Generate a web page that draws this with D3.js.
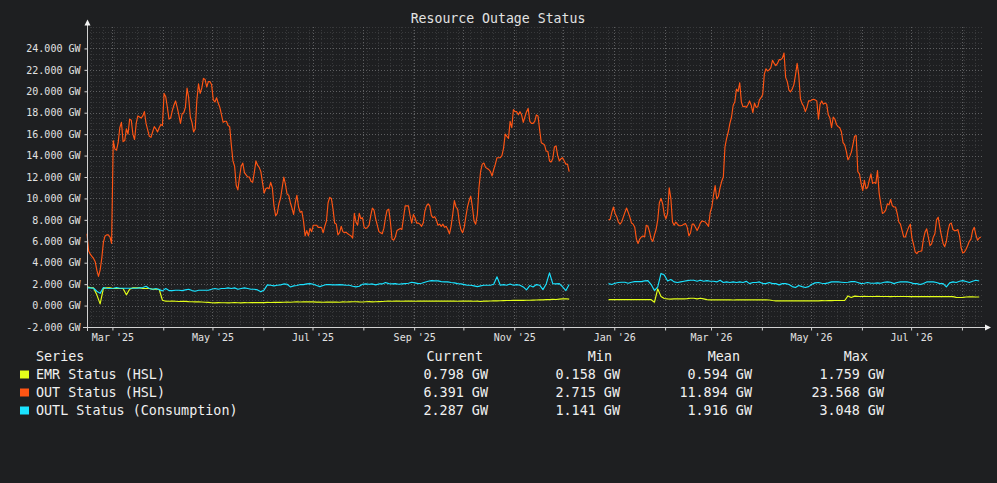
<!DOCTYPE html>
<html>
<head>
<meta charset="utf-8">
<script src="https://cdn.jsdelivr.net/npm/d3@7"></script>
<style>
body { margin: 0; background: #1e1f21; }
svg text { font-family: "DejaVu Sans Mono", monospace; }
</style>
</head>
<body>
<div id="chart"></div>
<script>

//////////////////////////////////////////////////////////////////////////////
// Data

var chartTitle = "Resource Outage Status";
var seriesNames = ["EMR Status (HSL)", "OUT Status (HSL)", "OUTL Status (Consumption)"];
var seriesColors = ["#e4ff1a", "#ff5514", "#1ae2ff"];
var legendHeaders = ["Series", "Current", "Min", "Mean", "Max"];
var statCurrent = [0.798, 6.391, 2.287];
var statMin = [0.158, 2.715, 1.141];
var statMean = [0.594, 11.894, 1.916];
var statMax = [1.759, 23.568, 3.048];

var yTickValues = [-2, 0, 2, 4, 6, 8, 10, 12, 14, 16, 18, 20, 22, 24];
var timeDomain = ["2025-02-13T12:00", "2026-08-13T20:00"];

// two runs of samples, the gap in December 2025 between them
var segmentStarts = ["2025-02-13T12:00", "2025-12-28T12:00"];
var outStepDays = 1;     // OUT sampled daily
var statusStepDays = 2;  // EMR / OUTL every second day

// OUT Status (HSL), GW
var outA = [
    6.7, 5.1, 4.8, 4.6, 4.4, 4.1, 3.3, 2.72, 3.3, 4.4, 5.9, 6.5, 6.6, 6.6, 6.4, 5.8,
    15.4, 14.6, 14.5, 15.2, 16.6, 17.1, 15.3, 15.4, 16.5, 16.0, 17.4, 17.3, 16.0, 15.5, 17.0, 17.7, 17.6, 17.5, 17.7, 18.1,
    17.0, 16.4, 15.8, 15.7, 16.2, 16.7, 16.5, 16.2, 16.6, 16.9, 16.8, 19.8, 19.5, 18.5, 17.4, 17.5, 18.2, 18.7, 19.1, 18.5,
    17.8, 17.0, 17.9, 18.0, 18.5, 20.3, 19.4, 17.6, 17.1, 16.2, 16.5, 19.2, 20.7, 19.8, 20.3, 21.2, 21.1, 20.4, 20.9, 20.9,
    20.6, 19.2, 19.0, 19.4, 18.9, 18.5, 17.8, 17.1, 17.2, 17.2, 16.8, 16.7, 15.0, 13.5, 13.0, 11.2, 10.8, 12.0, 13.0, 13.3,
    12.4, 12.2, 12.0, 12.0, 11.6, 11.5, 12.4, 13.5, 13.1, 12.9, 12.5, 11.5, 10.5, 10.9, 11.0, 10.9, 11.5, 11.0, 9.3, 8.4,
    8.6, 9.5, 10.0, 11.0, 12.0, 11.3, 10.4, 10.3, 9.6, 9.1, 8.5, 9.6, 10.3, 9.2, 8.7, 8.8, 7.9, 6.5, 7.0, 6.5,
    7.2, 6.9, 7.5, 7.5, 7.5, 7.3, 7.3, 7.3, 6.8, 7.4, 7.9, 9.6, 10.1, 10.0, 9.0, 7.7, 7.6, 6.6, 6.8, 7.4,
    6.9, 6.8, 6.85, 6.7, 6.6, 6.5, 6.3, 8.6, 7.8, 7.5, 8.6, 8.1, 8.2, 7.3, 7.2, 7.3, 7.5, 8.4, 9.1, 8.9,
    8.1, 7.5, 6.9, 6.8, 6.7, 7.2, 8.2, 8.9, 9.0, 7.8, 6.2, 6.1, 6.4, 7.0, 7.1, 7.2, 7.1, 8.2, 9.3, 9.3,
    9.3, 8.4, 7.7, 8.5, 8.2, 7.7, 7.7, 7.6, 7.4, 7.7, 8.8, 9.3, 9.5, 9.3, 8.4, 8.2, 8.3, 8.0, 7.5, 7.6,
    7.4, 7.6, 7.3, 7.4, 7.1, 6.7, 7.4, 8.5, 9.8, 9.2, 9.0, 7.8, 7.1, 6.8, 7.3, 8.3, 9.2, 9.8, 10.2, 9.2,
    7.9, 7.6, 8.5, 11.0, 12.5, 13.2, 13.3, 12.9, 12.8, 12.7, 12.5, 12.1, 12.7, 13.2, 13.8, 13.8, 13.8, 14.0, 14.7, 16.0,
    15.8, 15.6, 17.2, 16.6, 18.3, 18.1, 18.1, 17.8, 18.1, 17.8, 17.1, 17.6, 18.1, 18.4, 17.2, 17.0, 17.0, 17.2, 17.8, 17.7,
    16.4, 15.2, 15.1, 15.0, 14.4, 14.4, 13.5, 13.4, 13.7, 14.8, 14.9, 14.0, 13.5, 13.7, 13.8, 13.5, 13.2, 13.2, 12.5
];
var outB = [
    8.0, 8.05, 8.7, 9.2, 8.6, 8.3, 7.8, 7.6, 7.8, 8.25, 8.7, 9.1, 8.7, 8.25, 7.7, 7.6, 7.3, 6.2, 5.8, 6.2,
    6.4, 6.5, 6.4, 7.5, 7.4, 6.9, 6.2, 6.0, 6.6, 7.1, 8.0, 9.6, 10.0, 9.5, 8.5, 8.1, 8.6, 11.0, 10.0, 7.8,
    7.5, 7.8, 7.6, 7.45, 7.45, 7.5, 7.6, 7.65, 7.3, 6.5, 6.8, 7.6, 7.6, 7.3, 7.0, 7.3, 7.7, 7.9, 7.85, 7.8,
    7.6, 7.4, 8.7, 9.2, 10.3, 11.2, 9.95, 10.2, 11.0, 11.6, 12.0, 14.8, 15.6, 16.2, 17.0, 17.6, 18.7, 19.0, 20.2, 20.0,
    20.8, 19.0, 18.55, 18.6, 18.5, 18.75, 19.1, 18.7, 18.0, 18.9, 18.5, 18.55, 19.2, 19.4, 19.7, 21.6, 22.1, 21.9, 22.0, 22.2,
    22.9, 22.6, 22.4, 22.6, 22.95, 22.95, 23.1, 23.57, 21.3, 20.9, 20.1, 19.95, 20.2, 20.6, 21.5, 22.6, 21.5, 19.3, 18.85, 18.6,
    18.1, 18.5, 19.1, 19.1, 19.2, 19.25, 19.2, 19.1, 17.4, 18.8, 19.1, 18.8, 18.9, 18.8, 17.8, 17.5, 16.6, 17.6, 17.4, 16.9,
    16.7, 16.6, 16.2, 15.2, 15.0, 14.4, 13.6, 13.9, 14.3, 15.0, 15.8, 15.87, 12.5, 12.3, 11.4, 10.73, 11.7, 10.9, 11.05, 11.7,
    12.3, 11.4, 11.5, 11.4, 12.6, 10.5, 9.5, 8.6, 8.7, 8.9, 9.5, 9.4, 9.9, 9.33, 9.2, 9.2, 8.6, 7.8, 7.6, 7.0,
    6.4, 6.4, 6.9, 7.3, 7.6, 6.3, 5.7, 5.0, 4.85, 5.05, 5.07, 5.1, 6.2, 6.85, 7.16, 6.38, 5.6, 5.76, 6.38, 6.7,
    8.0, 8.25, 7.3, 6.5, 5.8, 5.5, 6.0, 7.0, 7.6, 7.7, 7.1, 7.0, 7.0, 7.1, 6.5, 5.4, 4.9, 5.0, 5.25, 5.6,
    6.0, 6.2, 7.0, 7.3, 6.6, 6.1, 6.3, 6.39
];

// EMR Status (HSL), GW
var emrA = [
    1.74, 1.68, 1.65, 1.0, 0.16, 1.6, 1.65, 1.65, 1.59, 1.59,
    1.59, 1.59, 1.0, 1.52, 1.65, 1.65, 1.65, 1.59, 1.59, 1.59,
    1.52, 1.52, 1.52, 0.5, 0.41, 0.4, 0.41, 0.4, 0.38, 0.4,
    0.39, 0.37, 0.36, 0.35, 0.34, 0.33, 0.31, 0.3, 0.26, 0.25,
    0.27, 0.26, 0.26, 0.25, 0.26, 0.27, 0.26, 0.25, 0.27, 0.26,
    0.28, 0.27, 0.28, 0.29, 0.28, 0.3, 0.29, 0.3, 0.31, 0.3,
    0.31, 0.32, 0.31, 0.33, 0.34, 0.33, 0.34, 0.35, 0.35, 0.34,
    0.32, 0.33, 0.31, 0.32, 0.32, 0.33, 0.32, 0.31, 0.34, 0.33,
    0.35, 0.36, 0.36, 0.34, 0.33, 0.36, 0.37, 0.35, 0.36, 0.37,
    0.38, 0.4, 0.41, 0.4, 0.41, 0.41, 0.4, 0.41, 0.42, 0.41,
    0.4, 0.41, 0.41, 0.42, 0.41, 0.42, 0.41, 0.41, 0.42, 0.41,
    0.41, 0.42, 0.41, 0.4, 0.41, 0.41, 0.41, 0.41, 0.4, 0.41,
    0.38, 0.41, 0.42, 0.43, 0.44, 0.44, 0.45, 0.46, 0.47, 0.47,
    0.48, 0.49, 0.5, 0.49, 0.5, 0.5, 0.51, 0.52, 0.53, 0.53,
    0.55, 0.56, 0.58, 0.57, 0.6, 0.62, 0.64, 0.6
];
var emrB = [
    0.56, 0.56, 0.56, 0.56, 0.56, 0.56, 0.56, 0.56, 0.56, 0.56,
    0.56, 0.56, 0.56, 0.55, 0.31, 1.56, 0.85, 0.66, 0.62, 0.6,
    0.62, 0.62, 0.62, 0.63, 0.65, 0.68, 0.68, 0.62, 0.68, 0.63,
    0.56, 0.53, 0.53, 0.53, 0.54, 0.53, 0.53, 0.53, 0.52, 0.53,
    0.53, 0.53, 0.53, 0.53, 0.53, 0.53, 0.53, 0.53, 0.53, 0.52,
    0.47, 0.44, 0.44, 0.45, 0.44, 0.44, 0.44, 0.45, 0.44, 0.44,
    0.44, 0.44, 0.45, 0.44, 0.44, 0.46, 0.45, 0.46, 0.46, 0.47,
    0.47, 0.47, 0.47, 0.9, 0.76, 0.88, 0.86, 0.85, 0.86, 0.85,
    0.85, 0.85, 0.86, 0.85, 0.85, 0.85, 0.84, 0.85, 0.85, 0.85,
    0.85, 0.85, 0.84, 0.84, 0.84, 0.84, 0.84, 0.84, 0.84, 0.84,
    0.84, 0.83, 0.84, 0.83, 0.84, 0.84, 0.77, 0.75, 0.77, 0.8,
    0.81, 0.81, 0.8, 0.8
];

// OUTL Status (Consumption), GW
var outlA = [
    1.65, 1.65, 1.62, 1.34, 1.14, 1.68, 1.62, 1.59, 1.62, 1.68,
    1.62, 1.62, 1.62, 1.62, 1.62, 1.62, 1.65, 1.68, 1.8, 1.59,
    1.52, 1.59, 1.49, 1.37, 1.59, 1.4, 1.4, 1.43, 1.43, 1.4,
    1.46, 1.52, 1.4, 1.34, 1.43, 1.43, 1.43, 1.43, 1.52, 1.59,
    1.52, 1.59, 1.59, 1.65, 1.59, 1.65, 1.52, 1.59, 1.65, 1.59,
    1.52, 1.52, 1.46, 1.28, 1.46, 1.93, 1.9, 1.84, 1.9, 1.93,
    2.02, 1.99, 1.74, 1.84, 1.87, 1.96, 1.96, 2.02, 2.05, 1.99,
    1.87, 1.77, 1.87, 1.96, 1.96, 1.93, 1.93, 1.96, 1.93, 1.9,
    1.9, 1.8, 1.74, 1.8, 1.99, 2.02, 1.99, 2.02, 1.93, 2.02,
    2.02, 2.15, 2.05, 2.02, 2.05, 1.99, 2.02, 2.05, 2.08, 2.18,
    2.12, 2.05, 2.08, 2.18, 2.27, 2.33, 2.3, 2.3, 2.24, 2.21,
    2.21, 2.15, 2.12, 2.05, 2.02, 1.96, 1.9, 1.9, 1.84, 1.77,
    1.84, 1.9, 1.9, 1.9, 1.99, 2.68, 1.9, 1.96, 1.9, 2.02,
    1.9, 1.96, 1.9, 1.74, 1.46, 1.87, 1.74, 1.96, 1.9, 1.49,
    2.02, 3.05, 2.05, 2.02, 2.05, 1.74, 1.4, 1.96
];
var outlB = [
    2.05, 1.96, 2.08, 2.15, 2.18, 2.18, 2.08, 2.18, 2.24, 2.24,
    2.24, 2.3, 2.33, 1.96, 1.4, 1.75, 3.0, 2.85, 2.3, 2.43,
    2.21, 2.15, 2.21, 2.27, 2.33, 2.36, 2.36, 2.27, 2.36, 2.27,
    2.33, 2.27, 2.27, 2.21, 2.36, 2.15, 2.21, 2.15, 2.21, 2.15,
    2.21, 2.15, 2.27, 2.05, 2.15, 2.15, 2.21, 2.05, 2.05, 2.15,
    2.05, 2.05, 1.93, 2.05, 2.05, 1.96, 1.77, 1.68, 1.87, 1.77,
    1.68, 1.77, 1.99, 2.12, 2.15, 2.08, 2.05, 2.12, 2.21, 2.21,
    2.21, 2.18, 2.15, 2.18, 2.24, 2.24, 2.15, 2.05, 2.08, 2.15,
    2.08, 2.08, 2.12, 2.08, 2.18, 2.21, 2.18, 2.05, 2.15, 2.21,
    2.21, 2.21, 2.15, 2.05, 2.05, 1.96, 2.05, 2.21, 2.21, 2.21,
    2.15, 2.05, 2.05, 1.74, 2.12, 2.21, 2.15, 2.27, 2.33, 2.24,
    2.15, 2.27, 2.36, 2.29
];

//////////////////////////////////////////////////////////////////////////////
// Global variables, preliminaries

var width = 997, height = 483;
var plotLeft = 87, plotRight = 983, plotTop = 27, plotBottom = 327;
var axisColor = "#d2d2d2", textColor = "#e2e2e2";

function parseLocal(s) { return new Date(s); }

var xScale = d3.scaleTime()
    .domain(timeDomain.map(parseLocal))
    .range([plotLeft, plotRight]);
var yScale = d3.scaleLinear().domain([-2, 26]).range([plotBottom, plotTop]);

var locale = d3.formatLocale({decimal: ".", thousands: ",", grouping: [3],
                              currency: ["", ""], minus: "-"});
var fmt3 = locale.format(".3f");
function gw(v) { return fmt3(v) + " GW"; }

function toPoints(values, start, step) {
    var t0 = parseLocal(start);
    return values.map(function(v, i) {
        return {date: d3.timeDay.offset(t0, i * step), value: v};
    });
}

var series = [
    {segs: [toPoints(emrA, segmentStarts[0], statusStepDays),
            toPoints(emrB, segmentStarts[1], statusStepDays)], color: seriesColors[0]},
    {segs: [toPoints(outA, segmentStarts[0], outStepDays),
            toPoints(outB, segmentStarts[1], outStepDays)], color: seriesColors[1]},
    {segs: [toPoints(outlA, segmentStarts[0], statusStepDays),
            toPoints(outlB, segmentStarts[1], statusStepDays)], color: seriesColors[2]}
];

var svg = d3.select("#chart").append("svg")
    .attr("width", width)
    .attr("height", height);

svg.append("rect").attr("width", width).attr("height", height).attr("fill", "#1e1f21");

//////////////////////////////////////////////////////////////////////////////
// Grid

var grid = svg.append("g");

// minor: every 0.5 GW and every week
var minorY = d3.range(-1.5, 26.01, 0.5).filter(function(v) { return yTickValues.indexOf(v) < 0; });
grid.selectAll("line.minory").data(minorY).enter().append("line")
    .attr("x1", plotLeft).attr("x2", plotRight)
    .attr("y1", function(d) { return Math.round(yScale(d)) + 0.5; })
    .attr("y2", function(d) { return Math.round(yScale(d)) + 0.5; })
    .attr("stroke", "#38393b").attr("stroke-dasharray", "1,2");

var xDom = xScale.domain();
grid.selectAll("line.minorx").data(d3.timeWeek.range(xDom[0], xDom[1])).enter().append("line")
    .attr("x1", function(d) { return Math.round(xScale(d)) + 0.5; })
    .attr("x2", function(d) { return Math.round(xScale(d)) + 0.5; })
    .attr("y1", plotTop).attr("y2", plotBottom)
    .attr("stroke", "#38393b").attr("stroke-dasharray", "1,2");

// major: every 2 GW and every month
grid.selectAll("line.majory").data(yTickValues.slice(1)).enter().append("line")
    .attr("x1", plotLeft).attr("x2", plotRight)
    .attr("y1", function(d) { return Math.round(yScale(d)) + 0.5; })
    .attr("y2", function(d) { return Math.round(yScale(d)) + 0.5; })
    .attr("stroke", "#5e5f61").attr("stroke-dasharray", "1,2");

grid.selectAll("line.majorx").data(d3.timeMonth.range(xDom[0], xDom[1])).enter().append("line")
    .attr("x1", function(d) { return Math.round(xScale(d)) + 0.5; })
    .attr("x2", function(d) { return Math.round(xScale(d)) + 0.5; })
    .attr("y1", plotTop).attr("y2", plotBottom)
    .attr("stroke", "#5e5f61").attr("stroke-dasharray", "1,2");

//////////////////////////////////////////////////////////////////////////////
// Lines

var line = d3.line()
    .x(function(d) { return xScale(d.date); })
    .y(function(d) { return yScale(d.value); });

series.forEach(function(s) {
    s.segs.forEach(function(seg) {
        svg.append("path")
            .datum(seg)
            .attr("d", line)
            .attr("fill", "none")
            .attr("stroke", s.color)
            .attr("stroke-width", 1.15)
            .attr("stroke-linejoin", "round");
    });
});

//////////////////////////////////////////////////////////////////////////////
// Axes

var yAxis = d3.axisLeft(yScale).tickValues(yTickValues).tickSize(3).tickPadding(4).tickFormat(gw);
var gy = svg.append("g").attr("transform", "translate(" + (plotLeft + 0.5) + ",0)").call(yAxis);
gy.select(".domain").remove();
gy.selectAll("line").attr("stroke", axisColor);
gy.selectAll("text").attr("fill", textColor).attr("font-size", 10)
    .attr("font-family", "DejaVu Sans Mono, monospace");

var monthFmt = d3.timeFormat("%b '%y");
var xAxis = d3.axisBottom(xScale).ticks(d3.timeMonth.every(1)).tickSize(3).tickPadding(3)
    .tickFormat(function(d) { return d.getMonth() % 2 === 0 ? monthFmt(d) : ""; });
var gx = svg.append("g").attr("transform", "translate(0," + (plotBottom + 0.5) + ")").call(xAxis);
gx.select(".domain").remove();
gx.selectAll("line").attr("stroke", axisColor);
gx.selectAll("text").attr("fill", textColor).attr("font-size", 10)
    .attr("font-family", "DejaVu Sans Mono, monospace");

// axis lines with arrow heads
svg.append("line")
    .attr("x1", plotLeft + 0.5).attr("x2", plotLeft + 0.5)
    .attr("y1", plotBottom + 4).attr("y2", 24)
    .attr("stroke", axisColor);
svg.append("path")
    .attr("d", "M" + (plotLeft - 2.5) + ",25.5 L" + (plotLeft + 0.5) + ",19.5 L" + (plotLeft + 3.5) + ",25.5 Z")
    .attr("fill", "#f2f2f2");
svg.append("line")
    .attr("x1", plotLeft - 4).attr("x2", plotRight + 2)
    .attr("y1", plotBottom + 0.5).attr("y2", plotBottom + 0.5)
    .attr("stroke", axisColor);
svg.append("path")
    .attr("d", "M" + (plotRight + 2) + "," + (plotBottom - 2.5) + " L" + (plotRight + 8) + "," + (plotBottom + 0.5) +
               " L" + (plotRight + 2) + "," + (plotBottom + 3.5) + " Z")
    .attr("fill", "#f2f2f2");

// title
svg.append("text")
    .attr("x", 498).attr("y", 23)
    .attr("text-anchor", "middle")
    .attr("fill", textColor)
    .attr("font-size", 13.2)
    .text(chartTitle);

//////////////////////////////////////////////////////////////////////////////
// Legend table

var legend = svg.append("g").attr("font-size", 13.4).attr("fill", "#f0f0f0");
var colRight = [483, 612, 740, 868];
var valRight = [488, 620, 752, 884];
var stats = [statCurrent, statMin, statMean, statMax];
var rowBase = [378.5, 396.5, 414.5];

legend.append("text").attr("x", 36).attr("y", 360.5).text(legendHeaders[0]);
legendHeaders.slice(1).forEach(function(h, i) {
    legend.append("text").attr("x", colRight[i]).attr("y", 360.5)
        .attr("text-anchor", "end").text(h);
});

seriesNames.forEach(function(name, r) {
    legend.append("rect")
        .attr("x", 20).attr("y", rowBase[r] - 8).attr("width", 9).attr("height", 8)
        .attr("fill", seriesColors[r]);
    legend.append("text").attr("x", 36).attr("y", rowBase[r]).text(name);
    stats.forEach(function(col, c) {
        legend.append("text").attr("x", valRight[c]).attr("y", rowBase[r])
            .attr("text-anchor", "end").text(gw(col[r]));
    });
});

</script>
</body>
</html>
